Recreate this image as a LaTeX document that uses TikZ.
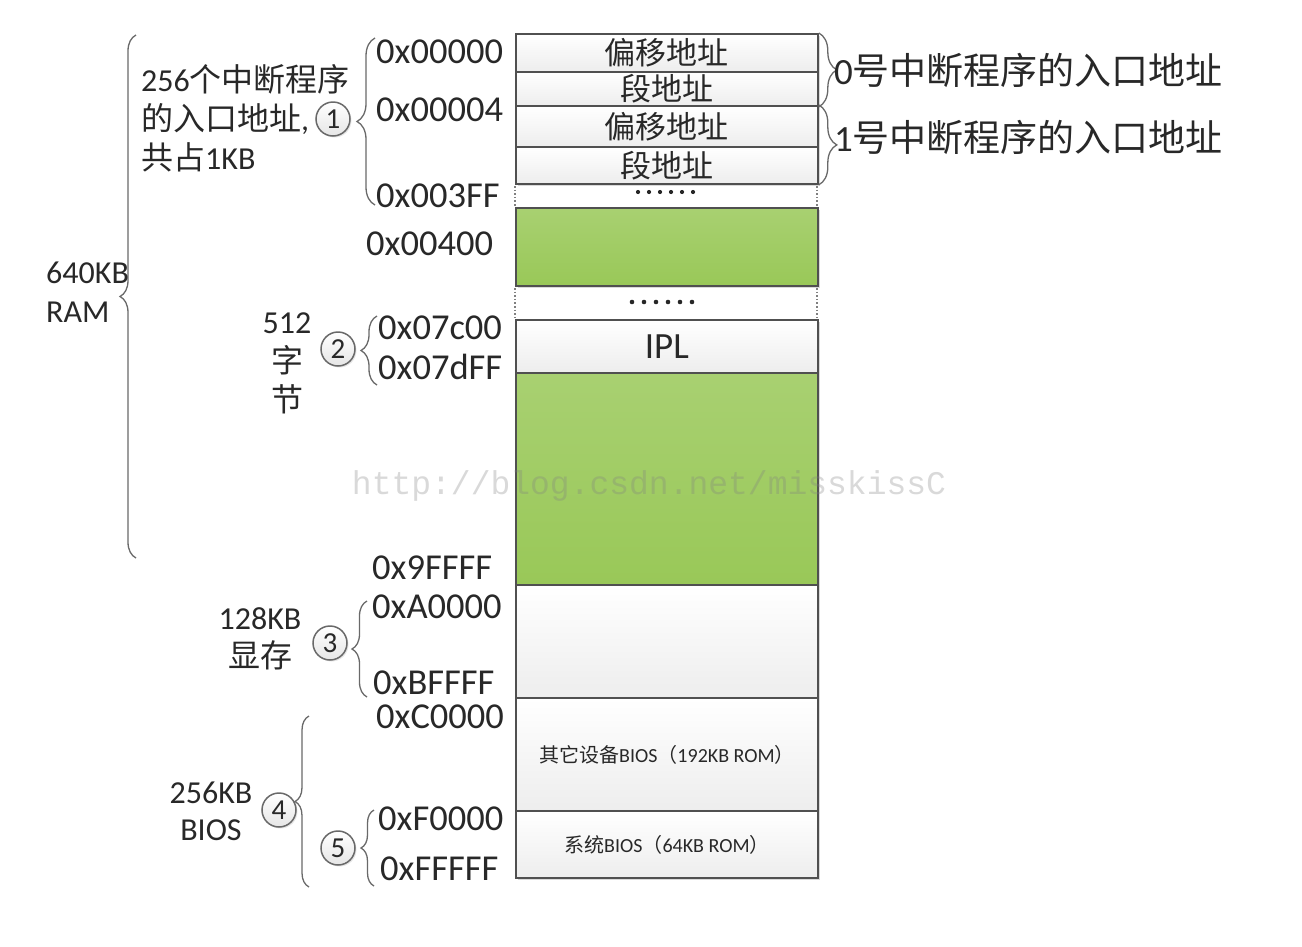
\documentclass[tikz,border=0pt]{standalone}
\usepackage{fontspec}
\setmainfont{Carlito}
\setmonofont{Liberation Mono}
\newfontfamily\cjk{Noto Sans CJK SC}
\usetikzlibrary{decorations.pathreplacing, shadows}
\definecolor{memgreen}{RGB}{153,200,88}
\definecolor{boxgray}{RGB}{80,80,80}
\definecolor{txtgray}{RGB}{40,40,40}
\definecolor{bracegray}{RGB}{105,105,105}
\tikzset{
  membox/.style={draw=boxgray, line width=1.8pt, top color=white, bottom color=gray!14,
    minimum width=302pt, inner sep=0pt, anchor=north west, text=txtgray,
    font=\fontsize{31}{31}\selectfont,
    drop shadow={shadow xshift=2.5pt, shadow yshift=-2.5pt, opacity=0.3}},
  greenbox/.style={membox, top color=memgreen!85!white, bottom color=memgreen},
  addr/.style={font=\fontsize{36.5}{36.5}\selectfont, text=txtgray, inner sep=0pt, anchor=west},
  lbl/.style={font=\fontsize{32}{39}\selectfont, text=txtgray, inner sep=0pt},
  num/.style={circle, draw=bracegray, line width=1.5pt, minimum size=34pt, inner sep=0pt,
    top color=white, bottom color=gray!20, text=txtgray, font=\fontsize{29}{29}\selectfont,
    drop shadow={shadow xshift=1.5pt, shadow yshift=-1.5pt, opacity=0.2}},
  curly/.style={decorate, decoration={brace, amplitude=#1}, draw=bracegray, line width=1.3pt},
  curly/.default=16pt,
  gapline/.style={draw=gray, dotted, line width=1.6pt},
}
\begin{document}
\begin{tikzpicture}[x=1pt, y=-1pt]
\useasboundingbox (0,0) rectangle (1302,946);
% memory column
\node[membox, minimum height=38pt] (off0) at (515,33) {\cjk 偏移地址};
\node[membox, minimum height=34pt] (seg0) at (515,71) {\cjk 段地址};
\node[membox, minimum height=41pt] (off1) at (515,105) {\cjk 偏移地址};
\node[membox, minimum height=37pt] (seg1) at (515,146) {\cjk 段地址};
\node[greenbox, minimum height=78pt] (vecrest) at (515,207) {};
\node[membox, minimum height=53pt, font=\fontsize{37}{37}\selectfont] (ipl) at (515,319) {IPL};
\node[greenbox, minimum height=212pt] (ram) at (515,372) {};
\node[membox, minimum height=113pt] (vram) at (515,584) {};
\node[membox, minimum height=113pt, font=\fontsize{20}{20}\selectfont] (devbios) at (515,697)
  {{\cjk 其它设备}BIOS{\cjk （}192KB ROM{\cjk ）}};
\node[membox, minimum height=67pt, font=\fontsize{20}{20}\selectfont] (sysbios) at (515,810)
  {{\cjk 系统}BIOS{\cjk （}64KB ROM{\cjk ）}};
% gaps
\draw[gapline] (515,186) -- (515,206);
\draw[gapline] (817,186) -- (817,206);
\draw[gapline] (515,288) -- (515,318);
\draw[gapline] (817,288) -- (817,318);
\foreach \i in {0,...,5} \fill[black!85] (638+11*\i,192) circle (2.1pt);
\foreach \i in {0,...,5} \fill[black!85] (632+12*\i,302) circle (2.3pt);
% addresses
\node[addr] (a00000) at (376,52) {0x00000};
\node[addr] (a00004) at (376,110) {0x00004};
\node[addr] (a003FF) at (376,196) {0x003FF};
\node[addr] (a00400) at (366,244) {0x00400};
\node[addr] (a07c00) at (378,328) {0x07c00};
\node[addr] (a07dFF) at (378,367) {0x07dFF};
\node[addr] (a9FFFF) at (372,568) {0x9FFFF};
\node[addr] (aA0000) at (372,607) {0xA0000};
\node[addr] (aBFFFF) at (373,683) {0xBFFFF};
\node[addr] (aC0000) at (376,717) {0xC0000};
\node[addr] (aF0000) at (378,819) {0xF0000};
\node[addr] (aFFFFF) at (380,869) {0xFFFFF};
% right braces
\draw[curly=18pt] (off0.north east) -- (seg0.south east);
\draw[curly=18pt] (off1.north east) -- (seg1.south east);
\node[lbl, anchor=west, font=\fontsize{37}{37}\selectfont] (ent0) at (834,70) {0{\cjk 号中断程序的入口地址}};
\node[lbl, anchor=west, font=\fontsize{37}{37}\selectfont] (ent1) at (834,137) {1{\cjk 号中断程序的入口地址}};
% left braces
\coordinate (bAtop) at (136,35);   \coordinate (bAbot) at (136,558);
\coordinate (b1top) at (375,38);   \coordinate (b1bot) at (375,205);
\coordinate (b2top) at (377,316);  \coordinate (b2bot) at (377,385);
\coordinate (b3top) at (367,601);  \coordinate (b3bot) at (367,697);
\coordinate (b4top) at (309,716);  \coordinate (b4bot) at (309,887);
\coordinate (b5top) at (374,810);  \coordinate (b5bot) at (374,886);
\draw[curly] (bAbot) -- (bAtop);
\draw[curly=18pt] (b1bot) -- (b1top);
\draw[curly] (b2bot) -- (b2top);
\draw[curly=15pt] (b3bot) -- (b3top);
\draw[curly=14pt] (b4bot) -- (b4top);
\draw[curly=13pt] (b5bot) -- (b5top);
% left labels
\node[lbl, anchor=west, align=left] (ivt) at (141,118)
  {256{\cjk 个中断程序}\\{\cjk 的入口地址},\\{\cjk 共占}1KB};
\node[lbl, anchor=west, align=left] (ramlbl) at (46,292) {640KB\\RAM};
\node[lbl, align=center] (iplsize) at (287,363) {512\\{\cjk 字}\\{\cjk 节}};
\node[lbl, align=center, font=\fontsize{32}{38}\selectfont] (vramlbl) at (260,639) {128KB\\{\cjk 显存}};
\node[lbl, align=center, font=\fontsize{32}{37}\selectfont] (bioslbl) at (211,811) {256KB\\BIOS};
% circled numbers
\node[num] (n1) at (333,119) {1};
\node[num] (n2) at (338,349) {2};
\node[num] (n3) at (330,643) {3};
\node[num] (n4) at (279,810) {4};
\node[num] (n5) at (338,848) {5};
% watermark
\node[text=gray, opacity=0.3, font=\ttfamily\fontsize{33}{33}\selectfont] (mark) at (649,486)
  {http://blog.csdn.net/misskissC};
\end{tikzpicture}
\end{document}
